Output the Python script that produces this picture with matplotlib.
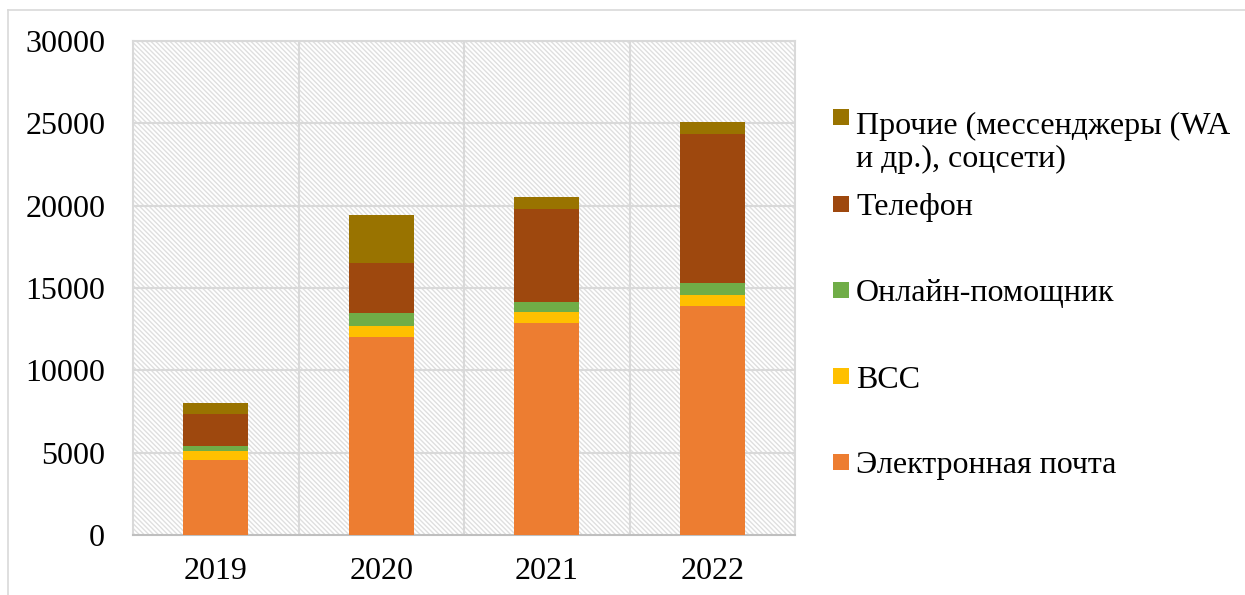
import numpy as np
import matplotlib
matplotlib.use("Agg")
import matplotlib.pyplot as plt
from matplotlib.patches import Rectangle
from matplotlib.lines import Line2D

plt.rcParams["font.family"] = ["Liberation Serif", "DejaVu Serif"]
plt.rcParams["hatch.color"] = "#dfdfdf"
plt.rcParams["hatch.linewidth"] = 1.0

years = ["2019", "2020", "2021", "2022"]
email = [4550, 12000, 12850, 13900]
vss = [550, 700, 700, 700]
online = [300, 800, 600, 700]
phone = [1950, 3000, 5650, 9050]
other = [650, 2950, 700, 750]

series = [
    ("Электронная почта", email, "#ED7D31"),
    ("ВСС", vss, "#FFC000"),
    ("Онлайн-помощник", online, "#70AD47"),
    ("Телефон", phone, "#9E480E"),
    ("Прочие (мессенджеры (WA\nи др.), соцсети)", other, "#997300"),
]

W, H = 1245, 595
fig = plt.figure(figsize=(W / 100, H / 100), dpi=100)
ax = fig.add_axes([133 / W, 1 - 535 / H, 662 / W, 494 / H])

# hatched background of the plot area
ax.patch.set_facecolor("white")
ax.add_patch(Rectangle((0, 0), 1, 1, transform=ax.transAxes, facecolor="white",
                       edgecolor="#dfdfdf", hatch="\\" * 7, linewidth=0, zorder=0))

x = np.arange(len(years))
bottom = np.zeros(len(years))
for label, vals, color in series:
    ax.bar(x, vals, width=0.39, bottom=bottom, color=color, label=label, zorder=3)
    bottom += np.array(vals)

ax.set_xlim(-0.5, len(years) - 0.5)
ax.set_ylim(0, 30000)
ax.set_yticks(np.arange(0, 30001, 5000))
ax.set_xticks(x)
ax.set_xticklabels(years)
ax.tick_params(axis="both", length=0, labelsize=23, colors="black")
ax.tick_params(axis="y", pad=20)
ax.tick_params(axis="x", pad=16)

for yv in np.arange(5000, 30001, 5000):
    ax.axhline(yv, color="#d9d9d9", linewidth=1.5, zorder=1)
for xv in np.arange(0.5, len(years) - 0.5, 1):
    ax.axvline(xv, color="#d9d9d9", linewidth=1.5, zorder=1)

for s in ax.spines.values():
    s.set_color("#d9d9d9")
    s.set_linewidth(1.5)
ax.spines["bottom"].set_color("#bfbfbf")

# legend, laid out by hand like the Excel original (uneven spacing)
leg_y = [462, 376, 290, 204, 117]   # square centres, px from top
for (label, vals, color), yc in zip(series, leg_y):
    fig.add_artist(Rectangle((833 / W, 1 - (yc + 8) / H), 16 / W, 16 / H,
                             transform=fig.transFigure, facecolor=color, edgecolor="none"))
    if "\n" in label:
        fig.text(856 / W, 1 - (yc - 5) / H, label, fontsize=23, va="top", ha="left",
                 linespacing=1.15)
    else:
        fig.text(856 / W, 1 - (yc + 4) / H, label, fontsize=23, va="center", ha="left")

# outer chart border (only top and left edges visible)
fig.add_artist(Line2D([8 / W, 8 / W], [0, 1 - 10 / H], transform=fig.transFigure,
                      color="#d9d9d9", linewidth=1.2))
fig.add_artist(Line2D([8 / W, 1], [1 - 10 / H, 1 - 10 / H], transform=fig.transFigure,
                      color="#d9d9d9", linewidth=1.2))

fig.savefig("out.png", dpi=100)
